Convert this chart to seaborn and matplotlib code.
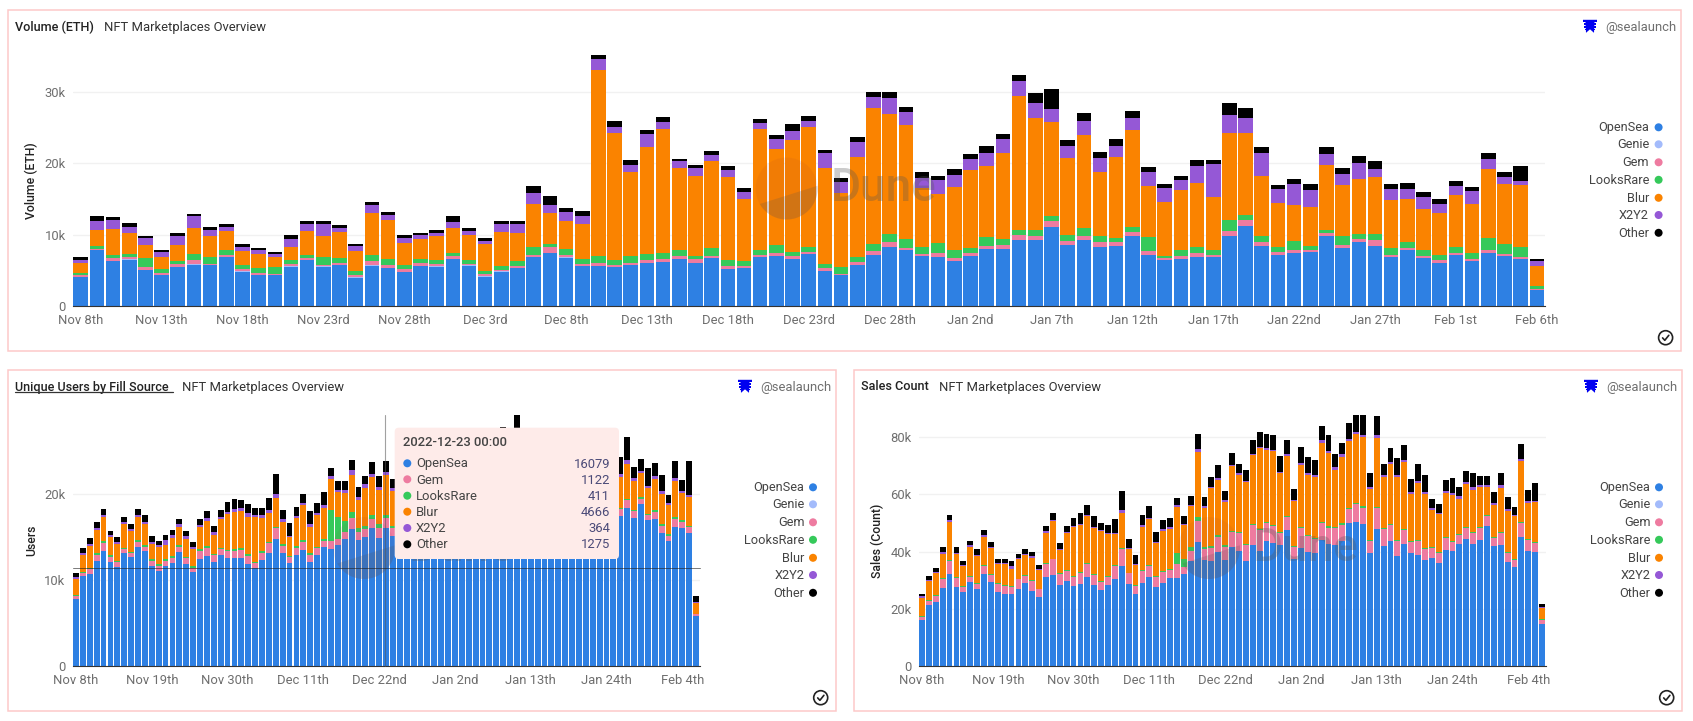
import numpy as np
import pandas as pd
import seaborn as sns
import matplotlib
matplotlib.use("Agg")
import matplotlib.pyplot as plt
from matplotlib.patches import Circle, Polygon, Rectangle, FancyBboxPatch

SERIES = ["OpenSea", "Genie", "Gem", "LooksRare", "Blur", "X2Y2", "Other"]
COLORS = ["#2e80e3", "#a3bbfb", "#ee7ba0", "#35c95a", "#fa8300", "#9558d6", "#000000"]

# ---------- Volume (ETH) ----------
vol_opensea = [4030,7820,6280,6460,5010,4310,5390,5760,5670,6790,4780,4260,4260,5480,6420,5480,5670,3930,5620,5290,4730,5530,5480,6600,5620,4080,4780,5250,6790,7400,6750,5530,5530,5390,5670,6000,6180,6560,6040,6700,5150,5290,6790,7030,6600,7260,4870,4260,5760,7170,8240,7820,7030,6890,6280,7030,7920,7920,9270,9270,11100,8480,9230,8240,8430,9840,7170,6370,6560,6790,6790,9840,11240,8430,7170,7400,7490,9840,8150,8990,8430,6790,7870,6650,6040,7070,6280,7400,7030,6560,2150]
vol_genie = [60,40,50,60,60,50,60,150,50,50,50,40,40,40,40,40,40,40,40,40,40,30,30,30,30,30,30,30,30,30,30,30,30,20,20,20,20,20,20,20,20,20,20,20,20,20,20,20,20,20,20,20,20,20,20,20,20,20,20,20,20,20,20,20,20,20,20,20,20,20,20,20,20,20,20,20,20,20,20,20,20,20,20,20,20,20,20,20,20,20,20]
vol_gem = [280,90,420,280,330,230,420,520,190,330,330,330,190,370,230,230,280,280,560,420,370,420,370,370,230,280,230,330,370,750,370,330,420,280,330,470,370,370,470,280,470,330,330,330,370,330,370,230,370,560,660,330,230,470,370,420,470,560,660,560,800,560,560,660,470,470,470,370,470,560,330,660,750,560,330,420,370,370,370,370,800,280,190,330,330,280,230,420,280,280,190]
vol_looksrare = [230,370,370,470,1260,560,420,840,980,660,520,660,890,520,470,1030,660,610,840,800,610,520,470,470,520,470,520,610,1030,470,800,660,940,750,940,800,800,890,520,1120,800,610,700,1080,520,700,660,890,750,980,1170,1260,1030,1450,1220,700,1260,840,750,750,750,940,1120,940,610,660,2010,230,750,940,750,1550,800,800,660,1310,520,420,1310,700,890,1080,840,800,800,890,840,1640,1310,1360,470]
vol_blur = [1410,2300,3700,2900,1870,1690,2250,3700,2860,2720,1970,2010,1500,1830,3370,3000,3700,2860,5900,5530,3090,2860,3420,3510,3560,3750,4730,4030,6040,4360,3930,4970,26140,17890,11800,15040,17520,11480,11240,12270,11620,8710,17000,13490,15790,16770,13490,10400,14010,19020,16820,15930,8200,6840,8760,10960,10020,12080,18830,15830,13120,10770,13020,8900,11340,13630,7170,7540,8430,8900,7400,12180,11520,8430,6180,4970,5530,9180,7170,7680,7960,6700,6040,5810,5810,7260,6930,9740,8480,8710,2760]
vol_x2y2 = [470,1260,1260,940,940,660,1260,1590,940,560,560,470,370,1080,890,1690,520,700,1120,610,660,520,470,800,470,470,1120,1170,1550,1120,1260,1120,1550,840,940,1780,980,940,1080,840,980,1080,890,1410,1310,890,2010,1640,2150,1500,2200,1870,1410,1970,1690,1450,1830,1970,2010,2060,1870,1730,2060,1920,1590,1690,1920,1970,1360,2480,4640,2580,2010,3190,1970,3000,2390,1450,1450,2340,1120,1550,1410,1730,1310,1360,1830,1360,1030,560,700]
vol_other = [330,750,330,520,370,330,420,330,370,370,420,280,280,660,420,420,470,280,470,520,370,370,370,840,420,470,470,520,940,1310,610,660,660,750,750,520,700,330,370,470,560,520,560,610,890,660,520,520,610,800,940,660,840,520,840,800,980,800,940,1450,2760,840,1030,890,940,1030,750,610,660,840,520,1640,1410,800,660,660,750,1080,940,980,1120,660,800,610,610,660,610,890,660,2150,330]

# ---------- Unique users ----------
usr_opensea = [7820,10430,10700,12250,13420,12100,11550,13150,12680,13810,13340,11630,11090,11630,11940,13230,11860,10890,12490,12840,12140,12910,12600,12600,12600,11900,11400,12330,13190,14780,13190,11940,12880,13460,12140,12910,13850,13620,14040,14780,15910,14700,14980,16030,14940,16079,15090,
               15400,15900,16500,16300,15900,16400,17000,16500,16700,16200,16900,17400,16800,16500,17200,18300,16300,19000,16200,16600,16200,16000,16500,16000,15800,16300,15700,15400,15100,15600,16200,16000,
               17510,18440,17190,18870,17000,17150,15520,14550,16220,16100,15520,5840]
usr_genie = [0] * 91
usr_gem = [350,350,540,660,890,620,540,430,430,620,510,580,580,580,620,620,700,510,890,930,740,660,740,820,930,890,540,820,1090,1240,780,700,860,970,820,820,740,890,700,860,1320,860,970,1090,1090,1122,1010,
           1000,1000,1150,1000,1100,950,1100,1000,1050,950,1100,1050,1000,1000,1100,1150,1000,1200,1000,1050,950,1000,1000,950,950,1000,950,900,900,950,1000,1000,
           740,890,820,620,540,820,820,580,890,620,620,160]
usr_looksrare = [80,160,160,190,190,190,160,190,160,190,190,190,190,190,190,190,160,230,190,190,190,190,160,160,160,190,190,190,190,160,230,190,230,190,230,160,190,3700,2570,1210,700,510,390,470,540,411,230,
                 200,200,150,150,150,150,150,150,150,150,150,150,150,150,150,150,150,150,150,150,150,150,150,150,150,150,150,150,150,150,150,150,
                 190,160,190,190,190,190,190,190,230,230,190,80]
usr_blur = [1870,1950,2530,2720,2800,2060,1980,2760,2410,2720,2450,1830,1980,1710,2180,2140,2100,1980,2570,2920,2180,3310,4160,4320,4320,4400,5210,3850,3350,3350,2570,2140,3230,4080,3030,3700,3660,3540,3000,3350,4320,3230,4430,4400,3930,4666,4080,
            4000,4300,4400,4300,4500,4100,4000,4000,4200,3900,4400,4400,4300,4300,4200,4800,4100,5000,4000,4200,3900,4000,4100,3900,3900,3800,3700,3800,3400,3600,3700,3600,
            3620,4050,3380,2760,2960,3620,3500,3420,4160,3150,3350,1280]
usr_x2y2 = [190,270,270,270,270,230,230,230,230,230,270,230,190,510,270,310,270,230,310,310,350,310,270,390,350,390,230,430,390,540,310,190,270,310,310,270,310,390,190,310,540,350,390,430,310,364,310,
            350,350,350,350,350,350,350,350,350,300,350,350,350,350,350,400,350,400,350,350,350,300,350,350,300,300,300,300,300,300,350,300,
            270,470,310,310,310,390,350,270,430,270,230,80]
usr_other = [470,540,660,700,700,540,580,620,660,700,820,660,510,620,620,660,620,540,700,890,700,780,1130,1170,970,1130,860,820,1360,2260,1050,1440,1090,1050,1560,1090,1560,930,1090,1090,1240,1170,1010,1360,1320,1275,1050,
             1200,1300,1200,1400,1300,1100,1000,1350,1200,1100,1300,1250,1300,1250,1300,3100,1300,4000,1100,1200,1150,1250,1200,1100,1200,1100,1050,1000,950,1100,1200,1100,
             2060,2720,1320,1320,2100,1520,1910,930,1950,1360,3970,700]

# ---------- Sales count ----------
sal_opensea = [16120,21260,22190,27330,32120,27680,25700,29320,26980,32240,29430,25810,25230,25000,26750,29080,26280,24180,30950,31770,28380,29670,27920,28620,31190,28270,26510,28270,30480,34920,28730,25110,29080,30950,27560,28970,30840,30840,32120,36680,43450,36910,36790,39950,37030,41580,40300,36680,42400,40180,43680,43100,42280,47540,37490,41230,39830,39360,44030,42750,42400,43680,49870,50460,49760,39360,47890,41810,43680,38310,42630,39360,38890,37030,37730,36090,40650,40300,42750,44270,42630,44030,49060,41810,42160,36320,34460,44970,40180,39830,14480]
sal_genie = [0] * 91
sal_gem = [930,1520,2220,2920,4440,3150,1870,1750,1640,2800,2450,2800,2800,2570,3500,2450,3270,2570,4670,5490,3620,3620,3040,3740,4440,3620,2920,2920,4320,5840,3620,2920,4200,3970,3390,3740,2570,4910,2340,3620,7360,4090,4560,5140,4440,5260,6070,5490,6770,7360,6190,5960,4320,4440,3970,6890,5490,4910,5840,5610,5720,5720,5020,6190,5610,4200,7360,6070,5490,5260,4910,3970,4910,3850,3500,3500,4090,3150,2920,3850,3740,4320,3270,3040,4440,3270,2450,5020,3740,3270,1640]
sal_looksrare = [230,230,470,470,350,230,350,230,350,230,230,230,350,230,230,350,350,230,230,230,350,230,350,350,230,230,350,350,350,350,230,230,230,350,350,350,350,3850,2800,1170,1170,580,580,580,700,470,350,580,470,350,470,350,350,470,470,470,470,470,580,470,470,470,470,350,470,470,470,350,470,470,350,350,350,350,350,350,350,350,470,350,350,350,350,350,350,350,350,470,350,350,120]
sal_blur = [6540,6540,7480,8530,13550,8060,6890,10400,9460,9930,9110,6770,7120,6190,6770,6770,7710,6540,10750,13080,8180,12850,17170,16470,16590,16120,17290,14480,10860,12380,8290,6890,14950,16000,11680,14250,14250,16120,12030,14370,22780,13670,20210,19390,15300,22660,20090,21610,24060,28380,25230,25700,20440,21140,15770,21840,21020,21370,27680,25580,19970,23360,23240,24180,24180,17990,24060,17870,21140,22080,23480,16470,19740,19040,12960,13080,15530,16120,12380,15070,14720,14020,10040,11210,15300,14370,15180,21260,12850,13780,4090]
sal_x2y2 = [470,470,470,580,470,470,470,470,470,470,470,470,350,820,580,580,700,230,470,470,470,470,350,470,470,470,350,350,580,930,470,470,700,580,470,470,470,470,470,470,1050,580,470,580,470,470,580,470,470,350,580,580,470,580,350,470,580,700,820,820,930,820,700,820,700,580,930,580,580,580,580,700,700,580,820,580,700,580,820,700,1050,470,470,470,930,700,470,820,700,470,230]
sal_other = [930,1400,1520,1640,1870,2100,1400,1520,1870,1750,1750,1280,1520,1990,1400,1520,1520,1520,1990,2340,1870,1990,2800,3740,3390,3740,2570,3040,4790,6890,2920,3150,3500,3970,3500,3270,3390,2690,2690,3270,5370,3270,3620,4670,3390,4200,3270,3620,5020,5370,5140,5140,5490,4790,3850,5610,5610,5140,5140,5720,4790,3850,5840,5840,7120,4790,6890,3850,4790,6070,5370,4670,5960,5840,3040,3040,3850,5260,3150,3850,5140,3270,3270,3970,4440,4090,2690,5140,3850,6190,1170]

# ---------- Axis labels ----------
vol_ticks = [0,5,10,15,20,25,30,35,40,45,50,55,60,65,70,75,80,85,90]
vol_labels = ["Nov 8th","Nov 13th","Nov 18th","Nov 23rd","Nov 28th","Dec 3rd","Dec 8th","Dec 13th","Dec 18th","Dec 23rd","Dec 28th","Jan 2nd","Jan 7th","Jan 12th","Jan 17th","Jan 22nd","Jan 27th","Feb 1st","Feb 6th"]
low_ticks = [0,11,22,33,44,55,66,77,88]
low_labels = ["Nov 8th","Nov 19th","Nov 30th","Dec 11th","Dec 22nd","Jan 2nd","Jan 13th","Jan 24th","Feb 4th"]

tip_date = "2022-12-23 00:00"
tip_names = ["OpenSea", "Gem", "LooksRare", "Blur", "X2Y2", "Other"]
tip_values = [16079, 1122, 411, 4666, 364, 1275]

W, H = 1693, 721
sns.set_theme(style="white")
plt.rcParams["font.family"] = ["Roboto", "DejaVu Sans"]
fig = plt.figure(figsize=(W / 100, H / 100), dpi=100, facecolor="white")
PX = 0.72
GRAY = "#6e6e6e"
DARK = "#2b2b2b"


def axes_px(x0, x1, y0, y1):
    return fig.add_axes([x0 / W, 1 - y1 / H, (x1 - x0) / W, (y1 - y0) / H])


def stacked(ax, rows, ytop, yticks, ylabels, xticks, xlabels, shrink):
    frames = [pd.DataFrame({"day": np.arange(91), "value": vals, "market": name})
              for name, vals in zip(SERIES, rows)]
    df = pd.concat(frames, ignore_index=True)
    sns.histplot(data=df, x="day", weights="value", hue="market",
                 hue_order=SERIES[::-1], palette=dict(zip(SERIES, COLORS)),
                 multiple="stack", discrete=True, shrink=shrink, alpha=1,
                 linewidth=0, legend=False, ax=ax)
    ax.set_xlim(-0.5, 90.5)
    ax.set_ylim(0, ytop)
    ax.set_xticks(xticks, xlabels)
    ax.set_yticks(yticks, ylabels)
    ax.tick_params(axis="both", length=0, labelsize=13 * PX, labelcolor=GRAY)
    ax.tick_params(axis="x", pad=6)
    ax.tick_params(axis="y", pad=5)
    ax.set_xlabel("")
    ax.set_ylabel("")
    ax.yaxis.grid(True, color="#f1f1f1", lw=1)
    ax.xaxis.grid(False)
    ax.set_axisbelow(True)
    ax.patch.set_alpha(0)
    sns.despine(ax=ax, left=True)
    ax.spines["bottom"].set_color("#333333")
    ax.spines["bottom"].set_linewidth(0.8)


ax_vol = axes_px(72.6, 1544.9, 55, 305.7)
stacked(ax_vol, [vol_opensea, vol_genie, vol_gem, vol_looksrare, vol_blur, vol_x2y2, vol_other],
        35220, [0, 10000, 20000, 30000], ["0", "10k", "20k", "30k"], vol_ticks, vol_labels, 0.9)
ax_usr = axes_px(72.55, 699.5, 415, 665.7)
stacked(ax_usr, [usr_opensea, usr_genie, usr_gem, usr_looksrare, usr_blur, usr_x2y2, usr_other],
        29260, [0, 10000, 20000], ["0", "10k", "20k"], low_ticks, low_labels, 0.85)
ax_sal = axes_px(918.55, 1545.5, 415, 665.7)
stacked(ax_sal, [sal_opensea, sal_genie, sal_gem, sal_looksrare, sal_blur, sal_x2y2, sal_other],
        87830, [0, 20000, 40000, 60000, 80000], ["0", "20k", "40k", "60k", "80k"], low_ticks, low_labels, 0.85)

# Page-level overlay in pixel coordinates (frames, titles, legends, watermark, tooltip)
ov = fig.add_axes([0, 0, 1, 1], zorder=10)
ov.set_xlim(0, W)
ov.set_ylim(H, 0)
ov.axis("off")
ov.patch.set_alpha(0)


def txt(x, y, s, size=13, color=DARK, ha="left", va="center", weight="normal", z=5, **kw):
    ov.text(x, y + 0.7, s, fontsize=size * PX, color=color, ha=ha, va=va, fontweight=weight, zorder=z, **kw)


def watermark(cx, cy):
    r = 31
    ov.add_patch(Circle((cx, cy), r, fc="#a04040", alpha=0.09, lw=0, zorder=2))
    th = np.radians(np.linspace(-5, 150, 60))
    ov.add_patch(Polygon(np.c_[cx + r * np.cos(th), cy + r * np.sin(th)], fc="#555555", alpha=0.2, lw=0, zorder=2))
    txt(cx + 97, cy - 1, "Dune", size=46, color="#555555", ha="center", weight="medium", z=2, alpha=0.3)


def icon(x, y):
    c = "#0000f0"
    ov.add_patch(Polygon([(x, y), (x + 14, y), (x + 14, y + 2.2), (x + 11.5, y + 2.2), (x + 11, y + 13),
                          (x + 7, y + 9.5), (x + 3, y + 13), (x + 2.5, y + 2.2), (x, y + 2.2)], fc=c, lw=0, zorder=5))
    for dy in (3.6, 6.2, 8.8):
        ov.add_patch(Rectangle((x + dy / 5, y + dy), 3, 1.5, fc=c, lw=0, zorder=5))
        ov.add_patch(Rectangle((x + 11 - dy / 5, y + dy), 3, 1.5, fc=c, lw=0, zorder=5))


def panel(x0, x1, y0, y1, title, tx, sub_x, icon_x, handle_x, leg_x, mark_x, ylab, ylab_x):
    ov.add_patch(Rectangle((x0, y0), x1 - x0, y1 - y0, fc="none", ec="#fdc9c9", lw=1.1, zorder=1))
    txt(tx, y0 + 16, title, size=12.6, weight="medium", color="#222222")
    txt(sub_x, y0 + 16, "NFT Marketplaces Overview", size=13, color="#333333")
    icon(icon_x, y0 + 9.5)
    txt(handle_x, y0 + 16, "@sealaunch", size=13, color=GRAY)
    for name, col, dy in zip(SERIES, COLORS, [117, 134, 152, 169.5, 187.5, 204.7, 222.5]):
        txt(leg_x, y0 + dy, name, size=12.8, color="#444444", ha="right")
        ov.add_patch(Circle((mark_x, y0 + dy), 4, fc=col, lw=0, zorder=5))
    txt(ylab_x, (y0 + 170 if y0 < 100 else 540), ylab, size=12.2, ha="center", rotation=90, weight="medium", color="#222222")
    cx, cy = x1 - 15, y1 - 13.6
    ov.add_patch(Circle((cx, cy), 7, fc="none", ec="#222222", lw=1.2, zorder=5))
    ov.plot([cx - 3, cx - 0.8, cx + 3.2], [cy + 0.2, cy + 2.6, cy - 2.4], color="#222222", lw=1.2, zorder=5)


panel(8.4, 1680.6, 10.3, 351.3, "Volume (ETH)", 15.3, 103.7, 1583, 1605, 1649, 1658.6, "Volume (ETH)", 31.8)
panel(8.3, 835.7, 370.3, 711.3, "Unique Users by Fill Source", 15.3, 182, 738, 760, 804.3, 813, "Users", 31.3)
panel(854.3, 1681.7, 370.3, 711.3, "Sales Count", 861.3, 939.3, 1584, 1606, 1650.3, 1659, "Sales (Count)", 877.7)
ov.plot([15.3, 172.7], [392, 392], color="#333333", lw=0.9, zorder=5)

watermark(786.6, 188.5)
watermark(364, 548)
watermark(1209, 548)

# Hover crosshair and tooltip of the users chart
ov.plot([384.7, 384.7], [415, 665.7], color="#555555", lw=0.8, alpha=0.55, zorder=3)
ov.plot([72.6, 700], [568.3, 568.3], color="#222222", lw=0.7, alpha=0.6, zorder=3)
ov.add_patch(FancyBboxPatch((397.7, 430.7), 218.3, 125.3, boxstyle="round,pad=3,rounding_size=4",
                            fc="#feebe9", ec="none", zorder=6))
txt(403.3, 442.3, tip_date, size=13, weight="medium", color="#444444", z=7)
for name, val, y in zip(tip_names, tip_values, [463.3, 479.3, 495.7, 511.7, 528, 544.3]):
    ov.add_patch(Circle((407.3, y), 4, fc=COLORS[SERIES.index(name)], lw=0, zorder=7))
    txt(416, y, name, size=13, color="#444444", z=7)
    txt(610, y, str(val), size=13, color="#4b4a78", ha="right", z=7)

fig.savefig("out.png", dpi=100, facecolor="white")
